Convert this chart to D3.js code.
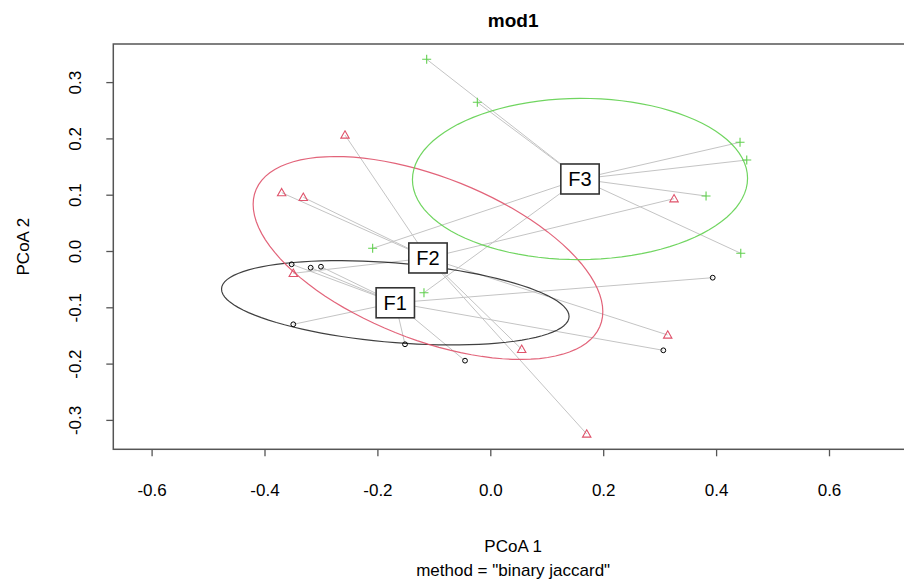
<!DOCTYPE html>
<html>
<head>
<meta charset="utf-8">
<script src="https://cdn.jsdelivr.net/npm/d3@7"></script>
<style>
  html, body { margin: 0; padding: 0; background: #fff; }
  svg { display: block; font-family: "Liberation Sans", Arial, sans-serif; }
</style>
</head>
<body>
<svg id="chart" width="904" height="585"></svg>
<script>
// Group labels and their plotting symbols / colours
const groups = ["F1", "F2", "F3"];
const groupColors = ["#000000", "#DF536B", "#61D04F"];
const groupShapes = ["circle", "triangle", "plus"];

// Sample scores on the first two principal coordinates, per group
const f1PCoA1 = [-0.3519, -0.3182, -0.3000, -0.3490, -0.1511, -0.0448, 0.3940, 0.3065];
const f1PCoA2 = [-0.0236, -0.0297, -0.0279, -0.1302, -0.1657, -0.1948, -0.0474, -0.1764];
const f2PCoA1 = [-0.2574, -0.3696, -0.3313, -0.3490, 0.3255, 0.3143, 0.0556, 0.1708];
const f2PCoA2 = [0.2060, 0.1036, 0.0954, -0.0396, 0.0929, -0.1492, -0.1746, -0.3250];
const f3PCoA1 = [-0.1127, -0.0230, 0.4424, 0.4543, 0.3822, 0.4437, -0.2084, -0.1175];
const f3PCoA2 = [0.3405, 0.2641, 0.1931, 0.1616, 0.0977, -0.0041, 0.0048, -0.0741];

// Group centroids (spatial medians)
const centroidPCoA1 = [-0.1683, -0.1104, 0.1589];
const centroidPCoA2 = [-0.0920, -0.0124, 0.1279];

// Axis ticks
const xTicks = [-0.6, -0.4, -0.2, 0.0, 0.2, 0.4, 0.6];
const yTicks = [-0.3, -0.2, -0.1, 0.0, 0.1, 0.2, 0.3];

const titleText = "mod1";
const xLabel = "PCoA 1";
const yLabel = "PCoA 2";
const subText = 'method = "binary jaccard"';

const scoresX = [f1PCoA1, f2PCoA1, f3PCoA1];
const scoresY = [f1PCoA2, f2PCoA2, f3PCoA2];

// Plot region
const plot = { left: 113.3, top: 44, right: 913, bottom: 449.3 };
const x = d3.scaleLinear().domain([-0.6, 0.6]).range([151.6, 829]);
const y = d3.scaleLinear().domain([-0.3, 0.3]).range([419.9, 82.1]);

// Plain hyphen-minus tick labels
const fmt = d => d.toFixed(1);

const svg = d3.select("#chart");

svg.append("defs").append("clipPath").attr("id", "plotclip")
  .append("rect")
  .attr("x", plot.left).attr("y", plot.top)
  .attr("width", plot.right - plot.left).attr("height", plot.bottom - plot.top);

const panel = svg.append("g").attr("clip-path", "url(#plotclip)");

// Segments from each sample to its group centroid
groups.forEach((g, i) => {
  scoresX[i].forEach((vx, j) => {
    panel.append("line")
      .attr("x1", x(vx)).attr("y1", y(scoresY[i][j]))
      .attr("x2", x(centroidPCoA1[i])).attr("y2", y(centroidPCoA2[i]))
      .attr("stroke", "#C4C4C4").attr("stroke-width", 1);
  });
});

// 1-SD covariance ellipses about each centroid
const line = d3.line().x(d => x(d[0])).y(d => y(d[1])).curve(d3.curveLinearClosed);
groups.forEach((g, i) => {
  const cx = centroidPCoA1[i], cy = centroidPCoA2[i];
  const n = scoresX[i].length;
  let sxx = 0, syy = 0, sxy = 0;
  for (let j = 0; j < n; j++) {
    const dx = scoresX[i][j] - cx, dy = scoresY[i][j] - cy;
    sxx += dx * dx; syy += dy * dy; sxy += dx * dy;
  }
  sxx /= (n - 1); syy /= (n - 1); sxy /= (n - 1);
  // Cholesky factor of the covariance matrix
  const l11 = Math.sqrt(sxx), l21 = sxy / l11, l22 = Math.sqrt(syy - l21 * l21);
  const pts = d3.range(100).map(k => {
    const t = 2 * Math.PI * k / 100;
    const u = Math.cos(t), v = Math.sin(t);
    return [cx + l11 * u, cy + l21 * u + l22 * v];
  });
  panel.append("path")
    .attr("d", line(pts))
    .attr("fill", "none")
    .attr("stroke", groupColors[i])
    .attr("stroke-opacity", i === 0 ? 0.75 : 0.9)
    .attr("stroke-width", 1.2);
});

// Sample points
groups.forEach((g, i) => {
  scoresX[i].forEach((vx, j) => {
    const px = x(vx), py = y(scoresY[i][j]);
    const col = groupColors[i];
    if (groupShapes[i] === "circle") {
      panel.append("circle").attr("cx", px).attr("cy", py).attr("r", 2.4)
        .attr("fill", "none").attr("stroke", col).attr("stroke-width", 1);
    } else if (groupShapes[i] === "triangle") {
      const s = 4.2;
      panel.append("path")
        .attr("d", `M${px},${py - s}L${px + s},${py + s * 0.75}L${px - s},${py + s * 0.75}Z`)
        .attr("fill", "none").attr("stroke", col).attr("stroke-width", 1.1);
    } else {
      const s = 4.5;
      panel.append("path")
        .attr("d", `M${px - s},${py}H${px + s}M${px},${py - s}V${py + s}`)
        .attr("stroke", col).attr("stroke-width", 1.1);
    }
  });
});

// Centroid labels in boxes
groups.forEach((g, i) => {
  const px = x(centroidPCoA1[i]), py = y(centroidPCoA2[i]);
  const lg = svg.append("g");
  const rect = lg.append("rect");
  const txt = lg.append("text")
    .attr("x", px).attr("y", py + 7)
    .attr("text-anchor", "middle")
    .attr("font-size", 20)
    .attr("fill", "#000")
    .text(g);
  const w = txt.node().getComputedTextLength() + 15;
  rect.attr("x", px - w / 2).attr("y", py - 15)
    .attr("width", w).attr("height", 30)
    .attr("fill", "#fff").attr("stroke", "#333").attr("stroke-width", 1.6);
});

// Plot frame
svg.append("rect")
  .attr("x", plot.left).attr("y", plot.top)
  .attr("width", plot.right - plot.left).attr("height", plot.bottom - plot.top)
  .attr("fill", "none").attr("stroke", "#555").attr("stroke-width", 1.5);

// Axes
const xAxis = svg.append("g")
  .attr("transform", `translate(0,${plot.bottom})`)
  .call(d3.axisBottom(x).tickValues(xTicks).tickSize(7).tickFormat(fmt));
xAxis.select(".domain").remove();
xAxis.selectAll(".tick line").attr("stroke", "#555").attr("stroke-width", 1.3);
xAxis.selectAll(".tick text")
  .attr("y", 47).attr("dy", 0)
  .attr("font-size", 17).attr("font-family", "Liberation Sans, Arial, sans-serif")
  .attr("fill", "#000");

const yAxis = svg.append("g")
  .attr("transform", `translate(${plot.left},0)`)
  .call(d3.axisLeft(y).tickValues(yTicks).tickSize(7).tickFormat(fmt));
yAxis.select(".domain").remove();
yAxis.selectAll(".tick line").attr("stroke", "#555").attr("stroke-width", 1.3);
yAxis.selectAll(".tick text")
  .attr("x", 0).attr("dy", 0)
  .attr("transform", "translate(-32,0) rotate(-90)")
  .attr("text-anchor", "middle")
  .attr("font-size", 17).attr("font-family", "Liberation Sans, Arial, sans-serif")
  .attr("fill", "#000");

// Titles
const midX = (plot.left + plot.right) / 2;
svg.append("text").attr("x", midX).attr("y", 27)
  .attr("text-anchor", "middle").attr("font-size", 19).attr("font-weight", "bold")
  .text(titleText);
svg.append("text").attr("x", midX).attr("y", 552)
  .attr("text-anchor", "middle").attr("font-size", 17)
  .text(xLabel);
svg.append("text").attr("x", midX).attr("y", 576)
  .attr("text-anchor", "middle").attr("font-size", 17)
  .text(subText);
svg.append("text")
  .attr("transform", `translate(29,${(plot.top + plot.bottom) / 2}) rotate(-90)`)
  .attr("text-anchor", "middle").attr("font-size", 17)
  .text(yLabel);
</script>
</body>
</html>
